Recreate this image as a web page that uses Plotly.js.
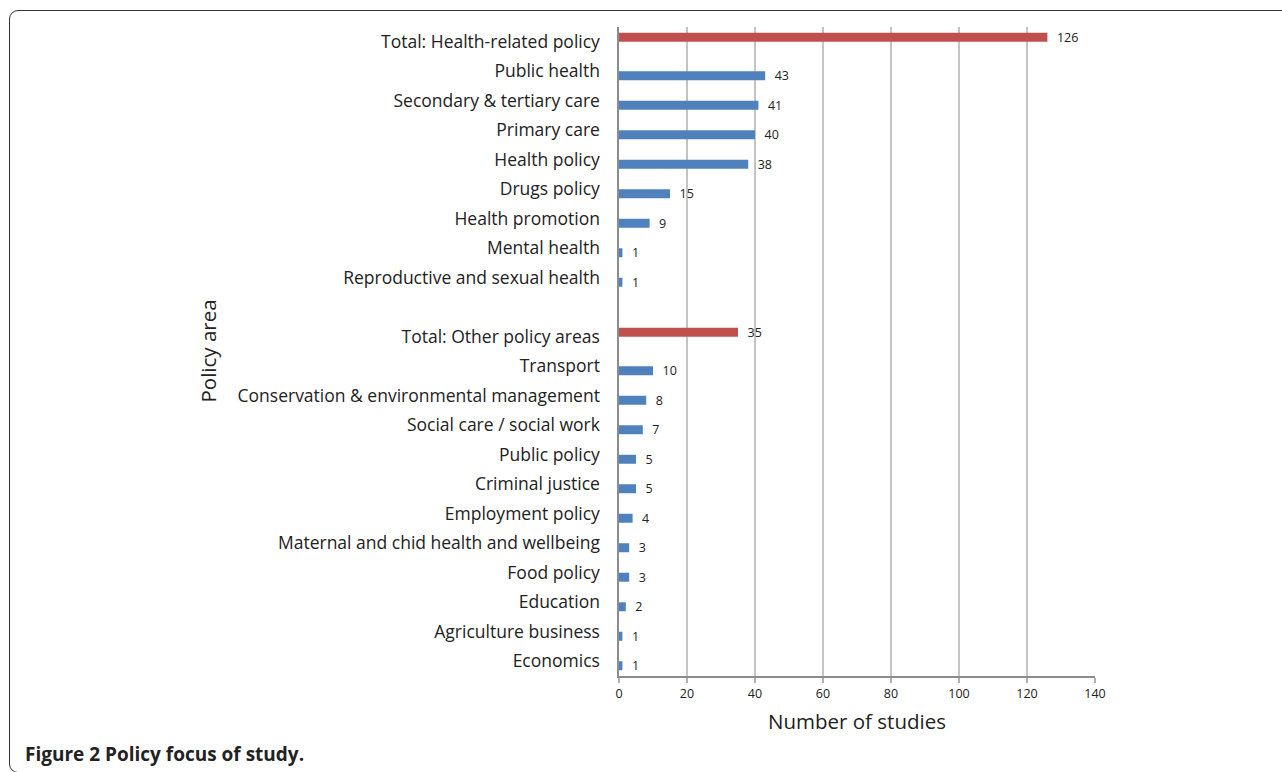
<!DOCTYPE html>
<html>
<head>
<meta charset="utf-8">
<script src="https://cdn.plot.ly/plotly-3.0.1.min.js"></script>
<style>
  html, body { margin: 0; padding: 0; background: #fff; }
  #wrap { position: relative; width: 1282px; height: 772px; overflow: hidden; }
  #frame { position: absolute; left: 9px; top: 10px; width: 1400px; height: 763px;
           border: 1.6px solid #333; border-radius: 9px; box-sizing: border-box; }
  #chart { position: absolute; left: 0; top: 0; width: 1282px; height: 772px; }
  #caption { position: absolute; left: 25px; top: 741px; font-family: "Open Sans", sans-serif;
             font-size: 19px; font-weight: 700; color: #222; }
</style>
</head>
<body>
<div id="wrap">
  <div id="frame"></div>
  <div id="chart"></div>
  <div id="caption">Figure 2 Policy focus of study.</div>
</div>
<script>
const categories = [
  "Total: Health-related policy",
  "Public health",
  "Secondary & tertiary care",
  "Primary care",
  "Health policy",
  "Drugs policy",
  "Health promotion",
  "Mental health",
  "Reproductive and sexual health",
  " ",
  "Total: Other policy areas",
  "Transport",
  "Conservation & environmental management",
  "Social care / social work",
  "Public policy",
  "Criminal justice",
  "Employment policy",
  "Maternal and chid health and wellbeing",
  "Food policy",
  "Education",
  "Agriculture business",
  "Economics"
];
const totalValues = [126, null, null, null, null, null, null, null, null, null, 35, null, null, null, null, null, null, null, null, null, null, null];
const areaValues  = [null, 43, 41, 40, 38, 15, 9, 1, 1, null, null, 10, 8, 7, 5, 5, 4, 3, 3, 2, 1, 1];
const xTicks = [0, 20, 40, 60, 80, 100, 120, 140];

const FONT = "'Open Sans', Lato, sans-serif";
const labelFont = { family: FONT, size: 12.5, color: "#222" };

const traces = [
  {
    type: "bar", orientation: "h", name: "Total",
    y: categories, x: totalValues,
    marker: { color: "#C0504D" },
    text: totalValues.map(v => v == null ? "" : "  " + v),
    textposition: "outside", textfont: labelFont, outsidetextfont: labelFont,
    constraintext: "none", cliponaxis: false,
    hoverinfo: "x+y"
  },
  {
    type: "bar", orientation: "h", name: "Policy area",
    y: categories, x: areaValues,
    marker: { color: "#4F81BD" },
    text: areaValues.map(v => v == null ? "" : "  " + v),
    textposition: "outside", textfont: labelFont, outsidetextfont: labelFont,
    constraintext: "none", cliponaxis: false,
    hoverinfo: "x+y"
  }
];

const layout = {
  width: 1282, height: 772,
  margin: { l: 619, r: 187, t: 27, b: 96 },
  paper_bgcolor: "rgba(0,0,0,0)", plot_bgcolor: "rgba(0,0,0,0)",
  barmode: "group", bargap: 0.39, bargroupgap: 0,
  showlegend: false,
  font: { family: FONT, color: "#222" },
  xaxis: {
    range: [0, 140], tickvals: xTicks, ticktext: xTicks.map(String),
    showgrid: true, gridcolor: "#c4c4c4", gridwidth: 1.5,
    showline: true, linecolor: "#8c8c8c", linewidth: 1.6,
    ticks: "outside", ticklen: 5, tickcolor: "#b0b0b0", tickwidth: 1.5,
    tickfont: { family: FONT, size: 12.5, color: "#222" },
    zeroline: false, fixedrange: true,
    title: { text: "Number of studies", font: { family: FONT, size: 20.5, color: "#222" }, standoff: 14 }
  },
  yaxis: {
    type: "category", categoryorder: "array", categoryarray: categories,
    autorange: "reversed",
    showgrid: false, showline: true, linecolor: "#8c8c8c", linewidth: 1.6,
    ticks: "", ticklabelstandoff: 14,
    tickfont: { family: FONT, size: 17.5, color: "#222" },
    zeroline: false, fixedrange: true
  },
  annotations: [
    {
      text: "Policy area", xref: "paper", yref: "paper",
      x: (207 - 619) / 476, y: 0.5, xanchor: "center", yanchor: "middle",
      textangle: -90, showarrow: false,
      font: { family: FONT, size: 20.5, color: "#222" }
    }
  ]
};

Plotly.newPlot("chart", traces, layout, { displayModeBar: false, staticPlot: true });
</script>
</body>
</html>
